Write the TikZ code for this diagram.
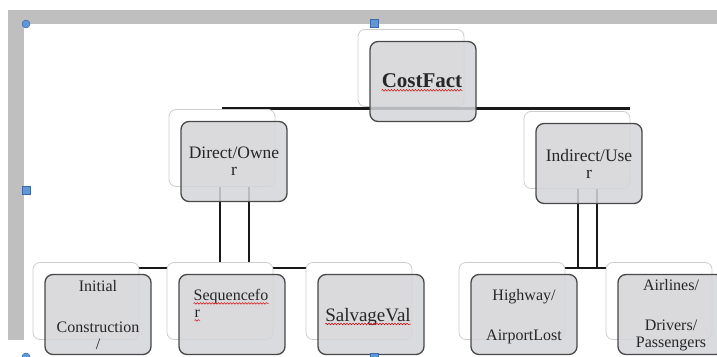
\documentclass[tikz,border=0pt]{standalone}
\usepackage{fontspec}
\setmainfont{Liberation Serif}
\usetikzlibrary{calc,backgrounds,decorations.pathmorphing}
\definecolor{framegray}{RGB}{191,191,191}
\definecolor{boxgray}{RGB}{212,213,216}
\definecolor{boxedge}{RGB}{72,72,72}
\definecolor{backedge}{RGB}{205,205,205}
\definecolor{handle}{RGB}{96,150,218}
\definecolor{handleedge}{RGB}{62,104,166}
\def\boxwidth{106pt}
\def\backheight{77pt}
\def\frontheight{80pt}

\begin{document}
\begin{tikzpicture}[x=1pt, y=1pt,
    backbox/.style={draw=backedge, fill=white, line width=0.8pt, rounded corners=7pt,
                    minimum width=\boxwidth, minimum height=\backheight, inner sep=0pt},
    frontbox/.style={draw=boxedge, fill=boxgray, fill opacity=0.86, line width=1.3pt, rounded corners=8pt,
                     minimum width=\boxwidth, minimum height=\frontheight, inner sep=0pt},
    link/.style={line width=2.8pt, black!90},
    txt/.style={inner sep=0pt, text=black!85, align=center, font=\fontsize{16}{17}\selectfont},
    squiggle/.style={red!85!black, line width=0.5pt, decorate,
                     decoration={snake, amplitude=0.8pt, segment length=3pt}},
    handlebox/.style={draw=handleedge, fill=handle, line width=0.5pt}]
    \clip (0,0) rectangle (717,356);
    % boxes behind, then the grey ones on top
    \foreach \nm/\x/\y in {cost/411/288, direct/222/208, indirect/577/206,
                           initial/86/55, sequence/220/55, salvage/359/55,
                           highway/512/55, airlines/659/55}{%
        \node[backbox] (\nm bk) at (\x,\y) {};}
    \foreach \nm in {cost,direct,indirect,initial,sequence,salvage,highway,airlines}{%
        \node[frontbox] (\nm) at ($(\nm bk)+(12,-13.5)$) {};}
    %
    \node[txt, font=\fontsize{21}{24}\selectfont\bfseries] (costtxt) at ($(cost)+(-1,1)$) {CostFact};
    \node[txt, font=\fontsize{17.5}{17}\selectfont] (directtxt) at (direct) {Direct/Owne\\r};
    \node[txt, font=\fontsize{17.5}{17}\selectfont] (indirecttxt) at (indirect) {Indirect/Use\\r};
    \node[txt] (initialtxt) at ($(initial)+(0,-1)$) {Initial\\[24pt]Construction\\/};
    \node[txt] (seqtxt) at ($(sequence)+(-1,18)$) {Sequencefo};
    \node[txt, anchor=base west] (seqtxtb) at ($(seqtxt.base west)+(1,-17)$) {r};
    \node[txt, font=\fontsize{19}{20}\selectfont] (salvagetxt) at ($(salvage)+(-3,-2)$) {SalvageVal};
    \node[txt] (highwaytxt) at ($(highway)+(0,-2)$) {Highway/\\[23pt]AirportLost};
    \node[txt] (airlinestxt) at ($(airlines)+(0,-1)$) {Airlines/\\[23pt]Drivers/\\Passengers};
    %
    \foreach \t in {costtxt,seqtxt,seqtxtb,salvagetxt}{%
        \draw[squiggle] ($(\t.base west)+(0,-3)$) -- ($(\t.base east)+(0,-3)$);}
    %
    \begin{scope}[on background layer]
      \fill[framegray] (8,332) rectangle (717,346);
      \fill[framegray] (8,16) rectangle (24,346);
      \coordinate (topbar) at ($(costbk.south)+(0,-1.5)$);
      \coordinate (lowbar) at ($(initialbk.north)+(0,-6)$);
      \draw[link] (directbk |- topbar) -- (indirectbk.east |- topbar);
      \foreach \dx in {-14,15}{%
        \coordinate (dv) at ($(direct.center)+(\dx,0)$);
        \draw[link] (dv) -- (dv |- lowbar);}
      \foreach \dx in {-11,8}{%
        \coordinate (iv) at ($(indirect.center)+(\dx,0)$);
        \draw[link] (iv) -- (iv |- lowbar);}
      \draw[link] (initialbk |- lowbar) -- (salvagebk |- lowbar);
      \draw[link] (highwaybk |- lowbar) -- (airlinesbk |- lowbar);
    \end{scope}
    % selection handles
    \draw[handlebox] (26,332) circle (4);
    \draw[handlebox] (370,329) rectangle (378,337);
    \draw[handlebox] (22,162) rectangle (30,170);
    \draw[handlebox] (26,-1) circle (4);
    \draw[handlebox] (370,-5) rectangle (378,3);
\end{tikzpicture}
\end{document}
